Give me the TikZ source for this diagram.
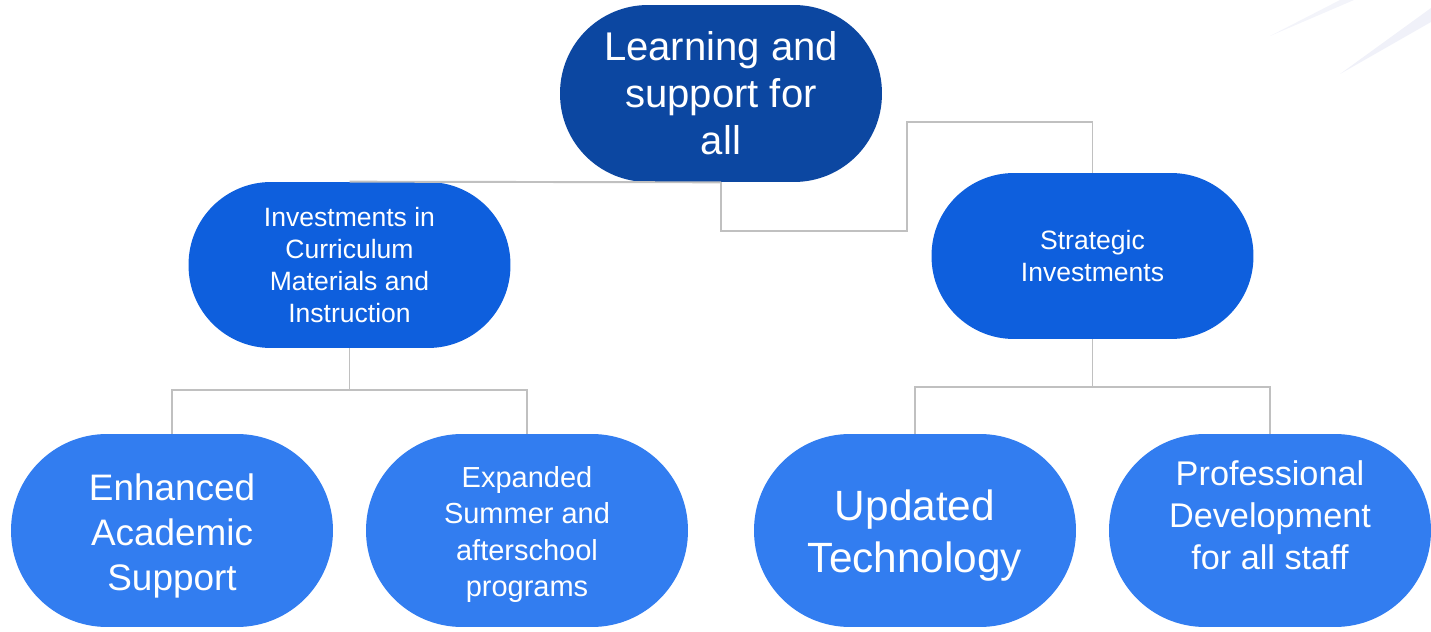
\documentclass[tikz,border=0pt]{standalone}
\usepackage{fontspec}
\setmainfont{Liberation Sans}
\definecolor{rootblue}{RGB}{12,71,161}
\definecolor{midblue}{RGB}{14,95,221}
\definecolor{leafblue}{RGB}{50,125,240}
\definecolor{linkgray}{RGB}{192,192,192}
\definecolor{streak}{RGB}{238,239,248}
\tikzset{
  pill/.style={draw=none, text=white, align=center, inner sep=0pt,
    minimum width=6.44cm, rounded corners=#1},
  rootpill/.style={pill=1.76cm, fill=rootblue, minimum height=3.54cm},
  midpill/.style={pill=1.65cm, fill=midblue, minimum height=3.32cm},
  leafpill/.style={pill=1.92cm, fill=leafblue, minimum height=3.86cm},
  caption/.style={text=white, align=center, inner sep=0pt},
  fsz/.style 2 args={font=\fontsize{#1}{#2}\selectfont},
  link/.style={draw=linkgray, line width=1.1pt}
}
\begin{document}
\begin{tikzpicture}[x=0.02cm, y=-0.02cm]
\useasboundingbox (0,0) rectangle (1431,632);

% faint streaks in the upper right corner
\fill[streak, opacity=0.7] (1270,36) -- (1340,0) -- (1354,0) -- cycle;
\fill[streak, opacity=0.9] (1340,74) -- (1431,8) -- (1431,22) -- cycle;

% upper boxes
\node[rootpill, fsz={22.8}{26.7}] (root) at (721,93.5)
  {Learning and\\support for\\all};
\node[midpill, fsz={15.1}{18.2}] (inv) at (349.5,265)
  {Investments in\\Curriculum\\Materials and\\Instruction};
\node[midpill, fsz={15.1}{18.2}] (strat) at (1092.5,256)
  {Strategic\\Investments};

% bottom boxes, with their captions placed separately
\node[leafpill] (enh) at (172,530.5) {};
\node[caption, fsz={21}{25.6}] (enh-t) at (172,535.5)
  {Enhanced\\Academic\\Support};
\node[leafpill] (exp) at (527,530.5) {};
\node[caption, fsz={16.5}{20.5}] (exp-t) at (527,534.5)
  {Expanded\\Summer and\\afterschool\\programs};
\node[leafpill] (upd) at (915,530.5) {};
\node[caption, fsz={24.1}{29.6}] (upd-t) at (915,536)
  {Updated\\Technology};
\node[leafpill] (prof) at (1270,530.5) {};
\node[caption, fsz={19.5}{23.9}] (prof-t) at (1270,515.5)
  {Professional\\Development\\for all staff};

% connectors
\draw[link] (inv.north) -- (root.south);
\draw[link] (root.south) -- ++(0,49) -| ++(186,-109) -| (strat.north);
\draw[link] (inv.south) -- ++(0,42) coordinate (ib);
\draw[link] (ib) -| (enh.north);
\draw[link] (ib) -| (exp.north);
\draw[link] (strat.south) -- ++(0,48) coordinate (sb);
\draw[link] (sb) -| (upd.north);
\draw[link] (sb) -| (prof.north);
\end{tikzpicture}
\end{document}
